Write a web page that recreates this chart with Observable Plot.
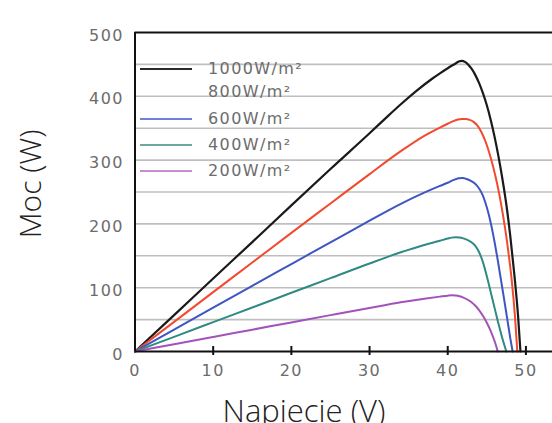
<!DOCTYPE html>
<html>
<head>
<meta charset="utf-8">
<script src="https://cdn.jsdelivr.net/npm/d3@7"></script>
<script src="https://cdn.jsdelivr.net/npm/@observablehq/plot@0.6"></script>
<style>
  html, body { margin: 0; padding: 0; background: #fff; width: 552px; height: 423px; overflow: hidden; }
  #wrap { position: relative; width: 552px; height: 423px; }
  svg g[aria-label="x-axis tick label"] text,
  svg g[aria-label="y-axis tick label"] text { letter-spacing: 1.5px; }
  .leg { position: absolute; left: 0; top: 0; font-family: "DejaVu Sans", sans-serif; font-size: 16px; color: #6c6c6c; letter-spacing: 1.4px; }
  .leg .it { position: absolute; left: 140px; height: 20px; width: 220px; }
  .leg .sw { position: absolute; left: 0; top: 9px; width: 52px; height: 2px; }
  .leg .tx { position: absolute; left: 68px; top: 0; line-height: 20px; white-space: nowrap; }
</style>
</head>
<body>
<div id="wrap"></div>
<script>
// Voltage (V) and power (W)
const v1000 = [0,5,10,15,20,25,30,32,34,36,38,39,40,41,41.4,41.8,42.2,42.6,43,43.5,44,44.5,45,45.5,46,46.5,47,47.5,48,48.5,49,49.3];
const p1000 = [0,57,114.5,171.5,229,286,342,365,387.5,408.5,427.5,436,444,451.5,454.5,455.5,454,450,444,434,421,405,386,363,336,305,270,230,181,123,55,0];
const v800 = [0,5,10,15,20,25,30,34,37,39,40,40.8,41.3,41.8,42.3,42.8,43.3,43.8,44.3,44.8,45.3,45.8,46.3,46.8,47.3,47.8,48.2,48.6,48.9];
const p800 = [0,46.5,93,139.5,186,232,278,314,338,351,357,361.5,363.5,364.5,364.3,363,360,354,344,330,312,290,264,233,196,152,110,55,0];
const v600 = [0,5,10,15,20,25,30,34,37,39,40,40.7,41.4,41.9,42.4,42.9,43.4,43.9,44.4,44.8,45.2,45.6,46,46.4,46.8,47.2,47.6,48,48.3];
const p600 = [0,34.3,68.6,103,137,171,205,231.5,249,259.5,264.5,268.5,271.5,271.8,270.5,268,264,257.5,247,234,217,196,171,143,113,83,52,21,0];
const v400 = [0,5,10,15,20,25,30,34,37,39,40,40.5,41,41.5,42,42.5,43,43.5,44,44.5,45,45.5,46,46.5,47,47.5];
const p400 = [0,23,46,69,92,115,138,155.5,167,173.5,177,178.5,179,178.7,177.3,175,171.5,166,156,140,118,93,68,43,20,0];
const v200 = [0,5,10,15,20,25,30,34,37,39,40,40.5,41,41.5,42,42.5,43,43.5,44,44.5,45,45.5,46,46.4];
const p200 = [0,11.4,22.8,34.2,45.6,57,68.3,77.2,82.8,86,87.5,88,87.6,86.5,84.5,81.5,77.5,72,65,56,45,32,16,0];

const seriesNames = ["1000W/m²","800W/m²","600W/m²","400W/m²","200W/m²"];
const seriesColors = ["#1a1a1a","#f24a2e","#3d56c2","#2f8a82","#a352ba"];
const legendSwatch = ["#2a2a2a", null, "#6f80d6", "#6aa8a0", "#c68ed0"];
const xTicks = [0,10,20,30,40,50];
const yTicks = [0,100,200,300,400,500];
const yGrid = [50,100,150,200,250,300,350,400,450];
const xLabel = "Napiecie (V)";
const yLabel = "Moc (W)";

const volts = [v1000, v800, v600, v400, v200];
const powers = [p1000, p800, p600, p400, p200];
const rows = [];
seriesNames.forEach((name, i) => {
  volts[i].forEach((v, j) => rows.push({series: name, V: v, P: powers[i][j]}));
});

const lineMarks = seriesNames.map((name, i) =>
  Plot.line(rows.filter(r => r.series === name), {
    x: "V", y: "P", stroke: seriesColors[i], strokeWidth: i === 0 ? 2.2 : 2, curve: "monotone-x"
  })
);

const chart = Plot.plot({
  width: 552,
  height: 423,
  marginLeft: 134.5,
  marginRight: 0,
  marginTop: 32,
  marginBottom: 72,
  x: {domain: [0, 53.4]},
  y: {domain: [0, 500]},
  style: {background: "white", fontFamily: "'DejaVu Sans', sans-serif", overflow: "hidden"},
  marks: [
    Plot.gridY({ticks: yGrid, stroke: "#bfbfbf", strokeOpacity: 1, strokeWidth: 1.6}),
    ...lineMarks,
    Plot.ruleY([0], {stroke: "#111", strokeWidth: 2}),
    Plot.ruleY([500], {stroke: "#111", strokeWidth: 2}),
    Plot.ruleX([0], {stroke: "#111", strokeWidth: 2}),
    Plot.tickX(xTicks.slice(1), {x: d => d, stroke: "#111", strokeWidth: 2, insetTop: 314, insetBottom: -4}),
    Plot.axisX({ticks: xTicks, tickSize: 0, tickPadding: 13, fontSize: 16, fill: "#6c6c6c", tickFormat: d => String(d), label: null}),
    Plot.axisY({ticks: yTicks, tickSize: 0, tickPadding: 11, fontSize: 16, fill: "#6c6c6c", dy: 3, tickFormat: d => String(d), label: null})
  ]
});

const svg = d3.select(chart);
svg.append("text")
  .attr("x", 304).attr("y", 422)
  .attr("text-anchor", "middle")
  .attr("font-family", "'Open Sans', sans-serif")
  .attr("font-weight", 300)
  .attr("font-size", 31)
  .attr("fill", "#222")
  .text(xLabel);
svg.append("text")
  .attr("transform", "translate(41,184) rotate(-90)")
  .attr("text-anchor", "middle")
  .attr("font-family", "'Open Sans', sans-serif")
  .attr("font-weight", 300)
  .attr("font-size", 30)
  .attr("fill", "#222")
  .text(yLabel);

const wrap = document.getElementById("wrap");
wrap.appendChild(chart);

const legTops = [59, 82, 109, 135, 161];
const leg = document.createElement("div");
leg.className = "leg";
seriesNames.forEach((name, i) => {
  const it = document.createElement("div");
  it.className = "it";
  it.style.top = legTops[i] + "px";
  if (legendSwatch[i]) {
    const sw = document.createElement("div");
    sw.className = "sw";
    sw.style.background = legendSwatch[i];
    it.appendChild(sw);
  }
  const tx = document.createElement("div");
  tx.className = "tx";
  tx.textContent = name;
  it.appendChild(tx);
  leg.appendChild(it);
});
wrap.appendChild(leg);
</script>
</body>
</html>
